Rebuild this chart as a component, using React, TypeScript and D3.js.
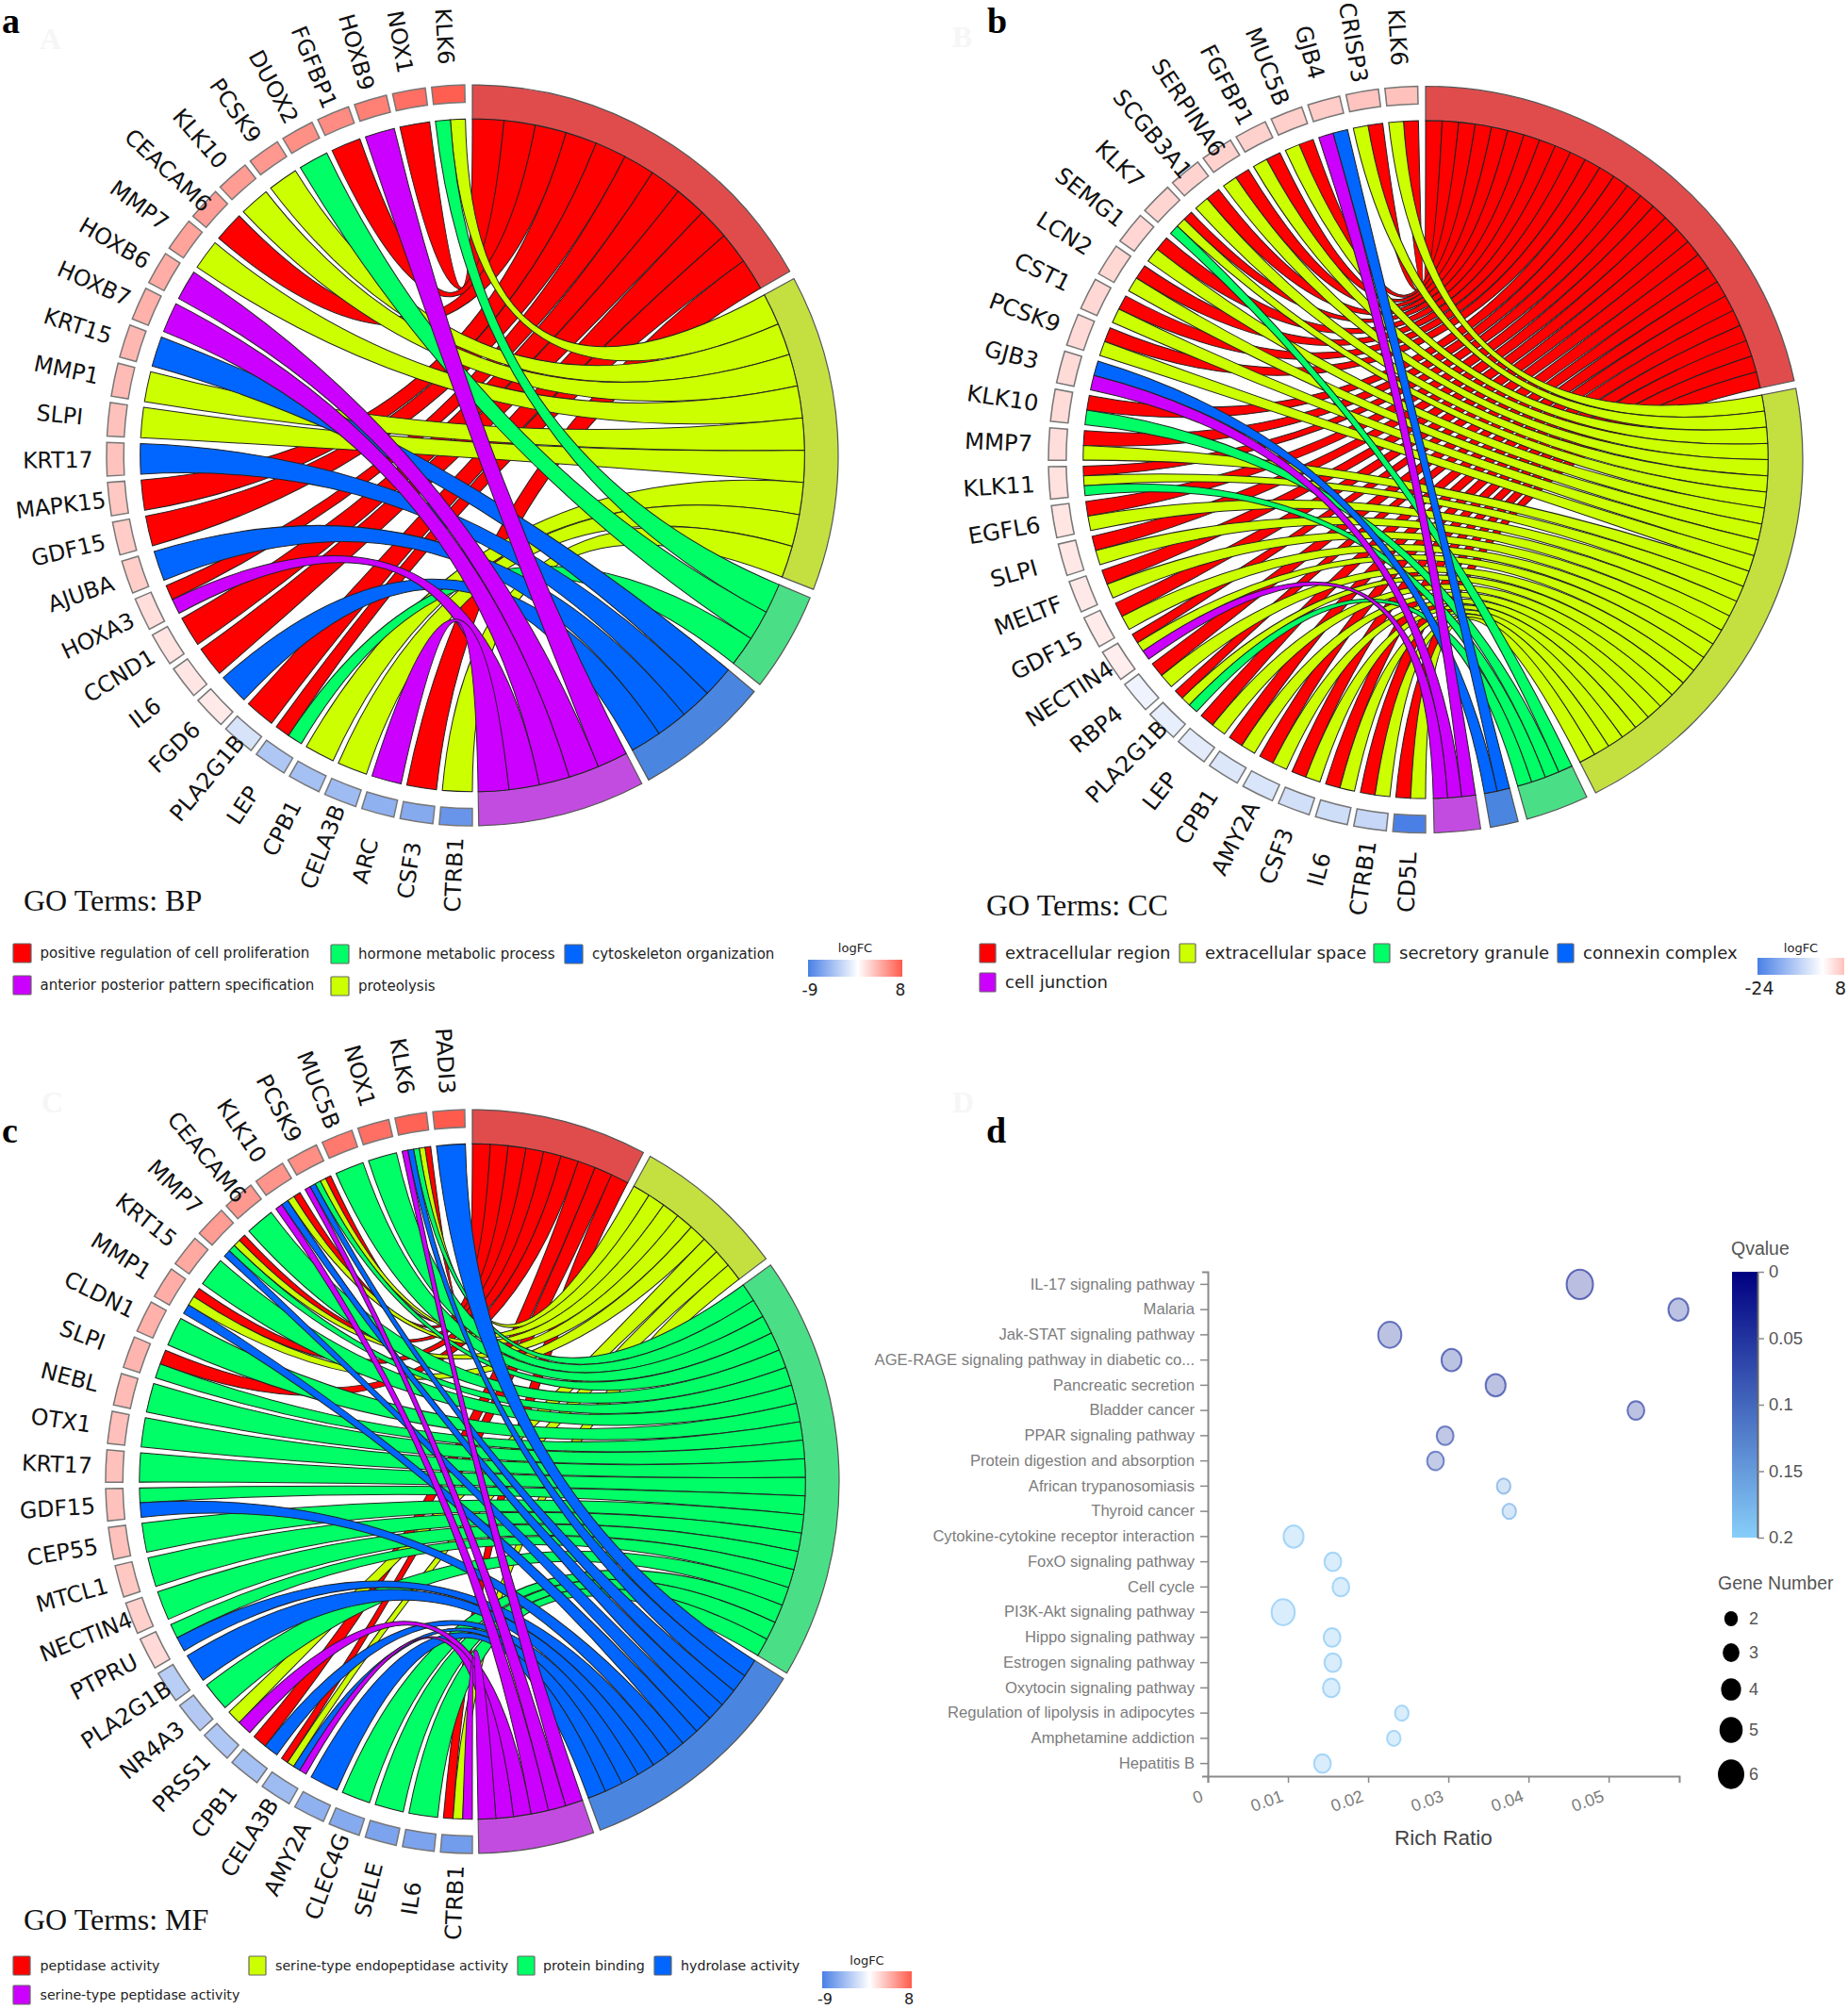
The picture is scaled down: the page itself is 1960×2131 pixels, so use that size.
import React, { useRef, useEffect } from 'react';
import * as d3 from 'd3';

const termColors = ['#ff0000', '#ccff00', '#00ff66', '#0066ff', '#cc00ff'];
const termArcColors = ['#e04c4c', '#c3e040', '#4adf86', '#4a86e0', '#c34ce0'];

// panel a: BP
const termsA = ['positive regulation of cell proliferation', 'proteolysis', 'hormone metabolic process', 'cytoskeleton organization', 'anterior posterior pattern specification'];
const genesA = ['KLK6', 'NOX1', 'HOXB9', 'FGFBP1', 'DUOX2', 'PCSK9', 'KLK10', 'CEACAM6', 'MMP7', 'HOXB6', 'HOXB7', 'KRT15', 'MMP1', 'SLPI', 'KRT17', 'MAPK15', 'GDF15', 'AJUBA', 'HOXA3', 'CCND1', 'IL6', 'FGD6', 'PLA2G1B', 'LEP', 'CPB1', 'CELA3B', 'ARC', 'CSF3', 'CTRB1'];
const logFcA = [7.8, 7, 6.2, 5.6, 5.4, 5, 4.8, 4.7, 4.5, 4, 3.8, 3.5, 3.3, 3, 2.9, 2.7, 2.5, 2.4, 1.6, 1.3, 1.2, 1, -2, -4, -4.5, -4.8, -5.5, -6, -7.5];
const linksA = [[1, 2], [0], [4], [0], [2], [1], [1], [0], [1], [4], [4], [3], [1], [1], [3], [0], [0], [3], [0, 4], [0], [0], [3], [0], [0, 2], [1], [1], [4], [0], [1]];
const spansA = [[0, 60.2], [61.5, 111.2], [112.6, 128.2], [129.6, 151.2], [152.4, 179]];

// panel b: CC
const termsB = ['extracellular region', 'extracellular space', 'secretory granule', 'connexin complex', 'cell junction'];
const genesB = ['KLK6', 'CRISP3', 'GJB4', 'MUC5B', 'FGFBP1', 'SERPINA6', 'SCGB3A1', 'KLK7', 'SEMG1', 'LCN2', 'CST1', 'PCSK9', 'GJB3', 'KLK10', 'MMP7', 'KLK11', 'EGFL6', 'SLPI', 'MELTF', 'GDF15', 'NECTIN4', 'RBP4', 'PLA2G1B', 'LEP', 'CPB1', 'AMY2A', 'CSF3', 'IL6', 'CTRB1', 'CD5L'];
const logFcB = [8, 7.6, 6.6, 6.2, 6, 5.8, 5.6, 5.4, 5.3, 5.1, 5, 4.8, 4.7, 4.6, 4.4, 3.9, 3.3, 3, 2.8, 2.5, 2.2, -2.2, -3, -3.6, -4.5, -5, -6, -6.5, -7.5, -24];
const linksB = [[0, 1], [0, 1], [3, 4], [0, 1], [0, 1], [0, 1], [0, 1], [0, 1, 2], [0, 1], [0, 1], [0, 1], [0, 1], [3, 4], [0, 2], [0, 1], [0, 1, 2], [0, 1], [0, 1], [0, 1], [0, 1], [0, 1, 4], [0, 1], [0, 1, 2], [0, 1], [0, 1], [0, 1], [0, 1], [0, 1], [0, 1], [0, 1]];
const spansB = [[0, 77.8], [79, 153.2], [154.7, 164.4], [165.8, 170.1], [171.6, 178.7]];

// panel c: MF
const termsC = ['peptidase activity', 'serine-type endopeptidase activity', 'protein binding', 'hydrolase activity', 'serine-type peptidase activity'];
const genesC = ['PADI3', 'KLK6', 'NOX1', 'MUC5B', 'PCSK9', 'KLK10', 'CEACAM6', 'MMP7', 'KRT15', 'MMP1', 'CLDN1', 'SLPI', 'NEBL', 'OTX1', 'KRT17', 'GDF15', 'CEP55', 'MTCL1', 'NECTIN4', 'PTPRU', 'PLA2G1B', 'NR4A3', 'PRSS1', 'CPB1', 'CELA3B', 'AMY2A', 'CLEC4G', 'SELE', 'IL6', 'CTRB1'];
const logFcC = [8, 7.6, 7, 6.5, 5.5, 5.2, 5, 4.8, 4.2, 4, 3.8, 3.6, 3.3, 3.1, 3, 3, 3, 2.7, 2.3, 1.8, -3.5, -3.8, -4, -4.5, -4.8, -5.5, -6, -6.5, -6.5, -7];
const linksC = [[3], [0, 1, 2, 3, 4], [2], [2], [0, 1, 2, 3, 4], [0, 1, 3, 4], [2], [0, 1, 2, 3], [2], [0, 1, 3], [2], [0, 2], [2], [2], [2], [2, 3], [2], [2], [2], [2, 3], [3], [2], [1, 4], [0, 3], [0, 1, 3, 4], [3], [2], [2], [2], [0, 1, 4]];
const spansC = [[0, 27.8], [29, 53.2], [54.4, 121], [122, 159.6], [160.7, 179]];

// panel d: bubble chart
const pathways = ['IL-17 signaling pathway', 'Malaria', 'Jak-STAT signaling pathway', 'AGE-RAGE signaling pathway in diabetic co...', 'Pancreatic secretion', 'Bladder cancer', 'PPAR signaling pathway', 'Protein digestion and absorption', 'African trypanosomiasis', 'Thyroid cancer', 'Cytokine-cytokine receptor interaction', 'FoxO signaling pathway', 'Cell cycle', 'PI3K-Akt signaling pathway', 'Hippo signaling pathway', 'Estrogen signaling pathway', 'Oxytocin signaling pathway', 'Regulation of lipolysis in adipocytes', 'Amphetamine addiction', 'Hepatitis B'];
const richRatio = [0.0464, 0.0587, 0.0227, 0.0304, 0.0359, 0.0534, 0.0296, 0.0284, 0.0369, 0.0376, 0.0107, 0.0156, 0.0166, 0.0094, 0.0155, 0.0156, 0.0154, 0.0242, 0.0232, 0.0143];
const geneNumber = [6, 4, 5, 4, 4, 3, 3, 3, 2, 2, 4, 3, 3, 5, 3, 3, 3, 2, 2, 3];
const qValue = [0.04, 0.05, 0.05, 0.05, 0.05, 0.05, 0.07, 0.08, 0.16, 0.17, 0.19, 0.19, 0.19, 0.19, 0.19, 0.19, 0.19, 0.19, 0.19, 0.19];
const richTicks = [0, 0.01, 0.02, 0.03, 0.04, 0.05];
const qTicks = [0, 0.05, 0.1, 0.15, 0.2];
const sizeTicks = [2, 3, 4, 5, 6];

const deg = Math.PI / 180;
const chordFont = '"DejaVu Sans", sans-serif';
const plotFont = '"Liberation Sans", sans-serif';

const geneArc = d3.arc();
const ribbon = d3.ribbon();

function fcScale(extent) {
  const m = Math.max(Math.abs(extent[0]), Math.abs(extent[1]));
  return d3.scaleLinear().domain([-m, 0, m]).range(['#4a80e6', '#ffffff', '#ff4636']);
}

const Chord = ({ cx, cy, rx, ry, genes, logFc, links, spans, fcExtent }) => {
  const R = 390;
  const rInner = R * 0.908;
  const rBox = R * 0.953;
  const color = fcScale(fcExtent);

  // terms run clockwise from 12 o'clock, genes counter-clockwise from 12
  const counts = [0, 1, 2, 3, 4].map(t => links.filter(l => l.includes(t)).length);
  const termArcs = spans.map((s, i) => ({ start: s[0], end: s[1], per: (s[1] - s[0]) / counts[i] }));

  const geneGap = 1;
  const geneW = (180 - 1.2 - (genes.length - 1) * geneGap) / genes.length;
  const geneSpan = i => {
    const end = 360 - 1.2 - i * (geneW + geneGap);
    return { start: end - geneW, end };
  };

  const used = [0, 0, 0, 0, 0];
  const ribbons = [];
  genes.forEach((g, i) => {
    const s = geneSpan(i);
    const w = (s.end - s.start) / links[i].length;
    links[i].forEach((t, j) => {
      const per = termArcs[t].per;
      const b0 = termArcs[t].start + used[t] * per;
      used[t] += 1;
      ribbons.push({
        term: t,
        d: ribbon({
          source: { startAngle: (s.end - (j + 1) * w) * deg, endAngle: (s.end - j * w) * deg, radius: rInner },
          target: { startAngle: b0 * deg, endAngle: (b0 + per) * deg, radius: rInner },
        }),
      });
    });
  });
  ribbons.sort((p, q) => p.term - q.term);

  return (
    <g transform={`translate(${cx},${cy}) scale(${rx / R},${ry / R})`}>
      {termArcs.map((t, i) => (
        <path
          key={i}
          d={geneArc({ innerRadius: rInner, outerRadius: R, startAngle: t.start * deg, endAngle: t.end * deg })}
          fill={termArcColors[i]}
          stroke="#555"
          strokeWidth={1.2}
        />
      ))}
      {ribbons.map((r, i) => (
        <path key={i} d={r.d} fill={termColors[r.term]} stroke="#222" strokeWidth={1} />
      ))}
      {genes.map((g, i) => {
        const s = geneSpan(i);
        const mid = ((s.start + s.end) / 2) * deg;
        const x = Math.sin(mid) * (R + 52);
        const y = -Math.cos(mid) * (R + 52);
        const rot = (Math.atan2(-y, -x) * 180) / Math.PI;
        return (
          <g key={g}>
            <path
              d={geneArc({ innerRadius: rBox, outerRadius: R, startAngle: s.start * deg, endAngle: s.end * deg })}
              fill={color(logFc[i])}
              stroke="#777"
              strokeWidth={1.5}
            />
            <text
              transform={`translate(${x},${y}) rotate(${rot})`}
              textAnchor="middle"
              dy="0.36em"
              fontFamily={chordFont}
              fontSize={23.7}
              fill="#111"
            >
              {g}
            </text>
          </g>
        );
      })}
    </g>
  );
};

const TermLegend = ({ items, fontSize }) => (
  <g fontFamily={chordFont} fontSize={fontSize} fill="#222">
    {items.map(it => (
      <g key={it.label}>
        <rect x={it.x} y={it.y - 10} width={it.w} height={20} fill={termColors[it.term]} stroke="#666" strokeWidth={1.2} rx={1} />
        <text x={it.x + it.w + it.pad} y={it.y} dy="0.35em">{it.label}</text>
      </g>
    ))}
  </g>
);

const FcLegend = ({ id, x, y, w, h, extent, lowX, highX, titleY, labelY, labelSize }) => {
  const color = fcScale(extent);
  const zero = (-extent[0] / (extent[1] - extent[0])) * 100;
  return (
    <g fontFamily={chordFont} fill="#222">
      <defs>
        <linearGradient id={id}>
          <stop offset="0%" stopColor={color(extent[0])} />
          <stop offset={`${zero}%`} stopColor="#ffffff" />
          <stop offset="100%" stopColor={color(extent[1])} />
        </linearGradient>
      </defs>
      <rect x={x} y={y} width={w} height={h} fill={`url(#${id})`} />
      <text x={x + w / 2} y={titleY} textAnchor="middle" dy="0.35em" fontSize={13}>logFC</text>
      <text x={lowX} y={labelY} textAnchor="middle" dy="0.35em" fontSize={labelSize}>{extent[0]}</text>
      <text x={highX} y={labelY} textAnchor="middle" dy="0.35em" fontSize={labelSize}>{extent[1]}</text>
    </g>
  );
};

const Bubble = () => {
  const xRef = useRef(null);
  const yRef = useRef(null);
  const qRef = useRef(null);

  const x = d3.scaleLinear().domain([0, 0.0588]).range([1281, 1781]);
  const y = d3.scaleBand().domain(pathways).range([1349, 1884]);
  const r = d3.scaleLinear().domain([2, 6]).range([7.2, 14]);
  const q = d3.scaleLinear().domain([0, 0.2]).range([1349, 1631]);
  const qColor = d3.scaleLinear().domain([0, 0.2]).range(['#000080', '#87cefa']);

  useEffect(() => {
    const style = (g, size) => {
      g.selectAll('path').attr('stroke', '#8a8a8a').attr('stroke-width', 2);
      g.selectAll('line').attr('stroke', '#8a8a8a').attr('stroke-width', 1.5);
      g.selectAll('text')
        .attr('fill', '#7c7c7c')
        .attr('font-family', plotFont)
        .attr('font-size', size);
    };
    const gy = d3.select(yRef.current);
    gy.call(d3.axisLeft(y).tickSize(8).tickSizeOuter(6).tickPadding(6));
    style(gy, 16.6);

    const gx = d3.select(xRef.current);
    gx.call(d3.axisBottom(x).tickValues(richTicks).tickFormat(d3.format('~g')).tickSize(7).tickSizeOuter(7));
    style(gx, 18);
    gx.selectAll('text')
      .attr('text-anchor', 'end')
      .attr('transform', 'rotate(-20)')
      .attr('dx', '-13')
      .attr('dy', '13');

    const gq = d3.select(qRef.current);
    gq.call(d3.axisRight(q).tickValues(qTicks).tickFormat(d3.format('~g')).tickSize(7).tickSizeOuter(0).tickPadding(5));
    style(gq, 18.5);
    gq.selectAll('text').attr('fill', '#555');
    gq.select('path').attr('stroke', '#666');
  });

  return (
    <g fontFamily={plotFont}>
      <defs>
        <linearGradient id="qGrad" x1="0" x2="0" y1="0" y2="1">
          <stop offset="0%" stopColor={qColor(0)} />
          <stop offset="100%" stopColor={qColor(0.2)} />
        </linearGradient>
      </defs>
      {pathways.map((p, i) => (
        <ellipse
          key={p}
          cx={x(richRatio[i])}
          cy={y(p) + y.bandwidth() / 2}
          rx={r(geneNumber[i])}
          ry={r(geneNumber[i]) * 1.12}
          fill={qColor(qValue[i])}
          fillOpacity={0.3}
          stroke={qColor(qValue[i])}
          strokeOpacity={0.65}
          strokeWidth={2}
        />
      ))}
      <g ref={yRef} transform="translate(1281,0)" />
      <g ref={xRef} transform="translate(0,1884)" />
      <text x={1531} y={1949} textAnchor="middle" dy="0.35em" fontSize={22.5} fill="#444">Rich Ratio</text>

      <text x={1836} y={1324} dy="0.35em" fontSize={19.5} fill="#555">Qvalue</text>
      <rect x={1837} y={1349} width={27} height={282} fill="url(#qGrad)" />
      <g ref={qRef} transform="translate(1864,0)" />

      <text x={1822} y={1679} dy="0.35em" fontSize={19.5} fill="#555">Gene Number</text>
      {sizeTicks.map((s, i) => {
        const cy = [1717, 1753, 1792, 1835, 1882][i];
        return (
          <g key={s}>
            <ellipse cx={1836} cy={cy} rx={r(s)} ry={r(s) * 1.12} fill="#000" />
            <text x={1855} y={cy} dy="0.35em" fontSize={18} fill="#555">{s}</text>
          </g>
        );
      })}
    </g>
  );
};

const legendA = [
  { label: termsA[0], term: 0, x: 14, y: 1011, w: 19, pad: 9.5 },
  { label: termsA[4], term: 4, x: 14, y: 1045, w: 19, pad: 9.5 },
  { label: termsA[2], term: 2, x: 351, y: 1012, w: 19, pad: 10 },
  { label: termsA[1], term: 1, x: 351, y: 1046, w: 19, pad: 10 },
  { label: termsA[3], term: 3, x: 599, y: 1012, w: 19, pad: 10 },
];
const legendB = [
  { label: termsB[0], term: 0, x: 1039, y: 1011, w: 17, pad: 10 },
  { label: termsB[4], term: 4, x: 1039, y: 1042, w: 17, pad: 10 },
  { label: termsB[1], term: 1, x: 1251, y: 1011, w: 17, pad: 10 },
  { label: termsB[2], term: 2, x: 1457, y: 1011, w: 17, pad: 10 },
  { label: termsB[3], term: 3, x: 1652, y: 1011, w: 17, pad: 10 },
];
const legendC = [
  { label: termsC[0], term: 0, x: 14, y: 2085, w: 18, pad: 10.5 },
  { label: termsC[4], term: 4, x: 14, y: 2116, w: 18, pad: 10.5 },
  { label: termsC[1], term: 1, x: 264, y: 2085, w: 18, pad: 10 },
  { label: termsC[2], term: 2, x: 549, y: 2085, w: 18, pad: 9 },
  { label: termsC[3], term: 3, x: 694, y: 2085, w: 18, pad: 10 },
];

const panelLetters = [
  { t: 'a', x: 2, y: 35 },
  { t: 'b', x: 1047, y: 35 },
  { t: 'c', x: 2, y: 1212 },
  { t: 'd', x: 1046, y: 1212 },
];
const faintLetters = [
  { t: 'A', x: 42, y: 52 },
  { t: 'B', x: 1010, y: 50 },
  { t: 'C', x: 44, y: 1180 },
  { t: 'D', x: 1010, y: 1180 },
];
const goTitles = [
  { t: 'GO Terms: BP', x: 25, y: 966 },
  { t: 'GO Terms: CC', x: 1046, y: 971 },
  { t: 'GO Terms: MF', x: 25, y: 2047 },
];

const App = () => (
  <svg width={1960} height={2131} style={{ position: 'absolute', left: 0, top: 0, background: '#fff' }}>
    <Chord cx={501} cy={483} rx={388} ry={393} genes={genesA} logFc={logFcA} links={linksA} spans={spansA} fcExtent={[-9, 8]} />
    <Chord cx={1512} cy={487.5} rx={400} ry={396} genes={genesB} logFc={logFcB} links={linksB} spans={spansB} fcExtent={[-24, 8]} />
    <Chord cx={501} cy={1571.5} rx={389} ry={394.5} genes={genesC} logFc={logFcC} links={linksC} spans={spansC} fcExtent={[-9, 8]} />

    <TermLegend items={legendA} fontSize={15} />
    <TermLegend items={legendB} fontSize={18} />
    <TermLegend items={legendC} fontSize={14.2} />
    <FcLegend id="fcA" x={857} y={1018} w={100} h={18} extent={[-9, 8]} lowX={859} highX={955} titleY={1005} labelY={1050} labelSize={17} />
    <FcLegend id="fcB" x={1864} y={1016} w={92} h={18} extent={[-24, 8]} lowX={1866} highX={1952} titleY={1005} labelY={1048} labelSize={19} />
    <FcLegend id="fcC" x={872} y={2091} w={95} h={18} extent={[-9, 8]} lowX={875} highX={964} titleY={2079} labelY={2120} labelSize={16} />

    <Bubble />

    {faintLetters.map(l => (
      <text key={l.t} x={l.x} y={l.y} fontFamily='"Liberation Serif", serif' fontWeight="bold" fontSize={32} fill="#f6f6f6">{l.t}</text>
    ))}
    {panelLetters.map(l => (
      <text key={l.t} x={l.x} y={l.y} fontFamily='"Liberation Serif", serif' fontWeight="bold" fontSize={38} fill="#000">{l.t}</text>
    ))}
    {goTitles.map(l => (
      <text key={l.t} x={l.x} y={l.y} fontFamily='"Liberation Serif", serif' fontSize={32} fill="#111">{l.t}</text>
    ))}
  </svg>
);

export default App;
